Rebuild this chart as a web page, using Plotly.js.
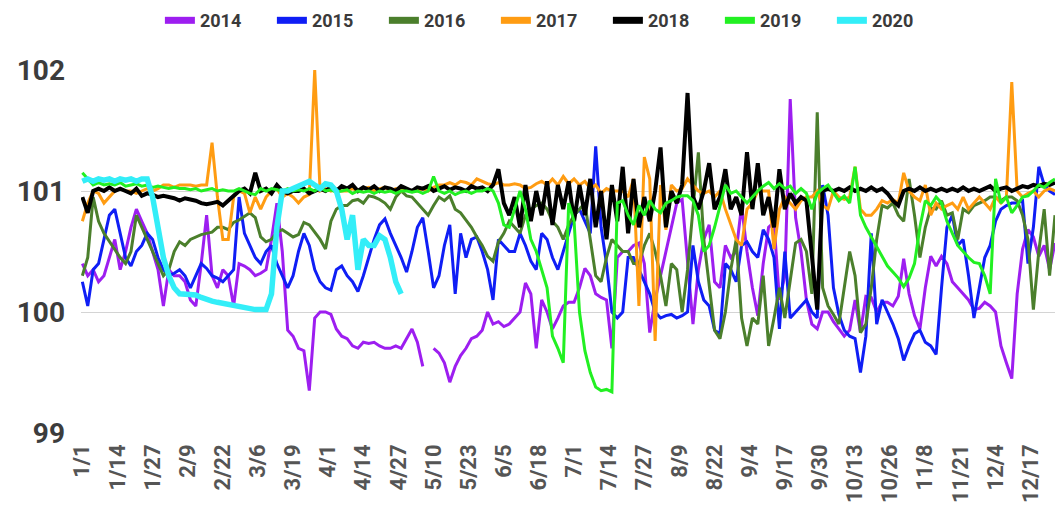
<!DOCTYPE html>
<html><head><meta charset="utf-8">
<script src="https://cdn.plot.ly/plotly-3.0.1.min.js"></script>
<style>html,body{margin:0;padding:0;background:#fff;overflow:hidden}#chart{width:1055px;height:524px}</style>
</head><body><div id="chart"></div>
<script>
// Day-of-year axis (leap-year calendar); values sampled every 2 days from 1/1
const stepDays = 2;
const tickLabels = ['1/1','1/14','1/27','2/9','2/22','3/6','3/19','4/1','4/14','4/27','5/10','5/23','6/5','6/18','7/1','7/14','7/27','8/9','8/22','9/4','9/17','9/30','10/13','10/26','11/8','11/21','12/4','12/17'];
const tickSpacingDays = 13;
const seriesNames = ['2014','2015','2016','2017','2018','2019','2020'];

const y2014 = [
100.4,100.3,100.35,100.25,100.3,100.45,100.6,100.35,100.5,100.7,100.85,100.75,100.65,100.5,100.35,100.05,100.35,100.3,100.3,100.25,
100.1,100.05,100.4,100.8,100.3,100.2,100.35,100.3,100.05,100.4,100.38,100.35,100.3,100.32,100.35,100.6,100.9,100.5,99.85,99.8,
99.7,99.68,99.35,99.95,100.0,100.0,99.98,99.86,99.8,99.78,99.72,99.7,99.75,99.74,99.75,99.72,99.7,99.7,99.72,99.7,
99.78,99.86,99.75,99.55,null,99.7,99.66,99.58,99.42,99.55,99.64,99.7,99.78,99.8,99.85,100.0,99.9,99.92,99.88,99.9,
99.95,100.0,100.24,100.15,99.7,100.1,100.0,99.86,99.95,100.05,100.08,100.08,100.2,100.36,100.3,100.15,100.12,100.1,99.7,100.45,
100.5,100.5,100.55,100.57,100.4,99.83,100.1,100.3,100.5,100.7,100.9,100.93,100.4,99.9,100.35,100.6,100.72,100.25,100.2,100.55,
100.45,100.5,100.88,100.5,100.2,99.97,100.4,100.7,100.74,100.1,100.3,101.76,100.78,100.5,100.1,99.9,99.86,100.0,100.0,99.92,
99.86,99.8,99.85,100.1,99.83,100.13,100.12,100.0,100.08,100.08,100.05,100.13,100.44,100.15,99.97,99.86,100.2,100.46,100.38,100.46,
100.4,100.25,100.2,100.15,100.1,100.02,100.03,100.08,100.05,100.0,99.72,99.58,99.45,100.15,100.52,100.68,100.62,100.46,100.55,100.35,100.57];

const y2015 = [
100.25,100.05,100.35,100.4,100.6,100.8,100.85,100.65,100.45,100.38,100.5,100.55,100.65,100.6,100.45,100.35,100.3,100.32,100.35,100.3,
100.2,100.3,100.4,100.36,100.3,100.28,100.25,100.3,100.35,100.95,100.65,100.55,100.45,100.4,100.5,100.55,100.4,100.3,100.2,100.3,
100.5,100.65,100.55,100.35,100.25,100.2,100.18,100.35,100.38,100.3,100.25,100.17,100.3,100.45,100.6,100.72,100.77,100.65,100.55,100.45,
100.33,100.5,100.7,100.78,100.5,100.2,100.3,100.55,100.72,100.15,100.65,100.45,100.6,100.62,100.5,100.35,100.1,100.6,100.55,100.5,
100.5,100.65,100.55,100.42,100.35,100.65,100.6,100.45,100.35,100.5,100.65,100.8,100.85,100.75,100.65,101.37,100.7,100.4,100.0,99.95,
100.0,100.45,100.45,100.35,100.25,100.15,100.0,99.95,99.97,99.98,99.95,99.97,100.0,100.55,100.25,100.1,100.05,99.85,99.82,100.4,
100.35,100.25,100.55,100.58,100.5,100.45,100.68,100.6,100.45,99.86,100.5,99.95,100.0,100.05,100.1,100.0,99.95,101.05,100.8,100.2,
99.98,99.85,99.8,99.78,99.5,99.8,100.65,99.9,100.1,100.0,99.9,99.78,99.6,99.72,99.82,99.85,99.75,99.72,99.65,100.2,
100.7,100.8,100.55,100.6,100.3,99.95,100.2,100.45,100.55,100.75,100.85,100.88,100.9,100.9,100.92,100.4,100.7,101.2,101.05,101.0,100.97];

const y2016 = [
100.3,100.45,100.95,100.75,100.65,100.58,100.52,100.45,100.4,100.5,100.8,100.7,100.6,100.5,100.4,100.3,100.35,100.5,100.58,100.55,
100.6,100.62,100.64,100.65,100.66,100.7,100.7,100.68,100.74,100.76,100.79,100.82,100.78,100.62,100.58,100.6,100.66,100.68,100.65,100.62,
100.64,100.74,100.72,100.66,100.6,100.52,100.75,100.85,100.88,100.88,100.92,100.93,100.9,100.96,100.95,100.93,100.9,100.85,100.95,101.0,
100.96,100.95,100.9,100.85,100.8,100.88,100.95,100.92,100.96,100.85,100.82,100.76,100.7,100.62,100.55,100.46,100.42,100.58,100.65,100.75,
100.7,100.65,100.8,100.85,100.88,100.9,100.85,100.75,100.7,100.6,100.72,100.8,100.85,100.9,100.6,100.3,100.25,100.45,100.6,100.55,
100.5,100.5,100.4,100.4,100.55,100.65,100.5,100.3,100.05,100.4,100.35,100.0,100.35,100.85,101.32,100.6,100.2,99.85,99.78,100.0,
100.35,100.6,99.95,99.72,99.95,99.9,100.3,99.72,99.95,100.2,99.95,100.25,100.57,100.6,100.5,100.15,101.65,100.2,100.05,99.98,
99.9,100.2,100.5,100.3,99.83,99.9,100.2,100.6,100.88,100.86,100.9,100.8,100.75,101.1,100.8,100.45,100.7,100.86,100.85,100.92,
100.8,100.82,100.6,100.85,100.82,100.88,100.9,100.92,100.95,100.95,100.92,100.95,100.95,100.92,100.8,100.6,100.02,100.5,100.85,100.3,100.8];

const y2017 = [
100.75,100.9,101.0,100.98,100.9,100.95,101.0,101.02,101.0,101.0,100.98,101.0,101.02,101.0,101.02,101.05,101.05,101.03,101.05,101.05,
101.05,101.04,101.05,101.05,101.4,100.95,100.6,100.6,100.95,101.0,100.98,100.82,100.95,100.85,100.95,101.0,101.02,100.95,100.98,100.95,
100.9,100.95,100.97,102.0,101.0,101.02,101.0,101.02,101.0,101.0,101.02,101.0,101.02,101.03,101.0,101.02,101.03,101.0,101.02,101.0,
101.02,101.0,101.0,101.02,101.0,101.03,101.05,101.05,101.07,101.05,101.08,101.07,101.05,101.1,101.08,101.06,101.05,101.07,101.05,101.05,
101.06,101.05,101.02,101.03,101.06,101.08,101.05,101.1,101.05,101.12,101.06,101.1,101.05,101.08,101.02,101.05,100.98,101.02,101.0,101.0,
101.0,100.95,101.1,100.05,101.28,101.1,99.76,101.05,100.68,101.05,101.0,101.02,101.1,101.05,101.0,100.98,101.0,100.95,101.0,100.85,
100.72,100.6,100.55,100.85,100.9,101.0,101.0,101.0,100.52,100.85,100.95,100.9,100.85,100.92,100.95,100.95,101.0,100.88,100.85,101.0,
100.95,100.93,100.95,101.2,100.85,100.8,100.8,100.85,100.92,100.9,100.93,100.9,101.15,101.0,100.95,100.92,101.05,100.8,100.9,100.85,
100.88,100.9,100.85,100.95,100.85,100.9,100.95,100.9,100.85,100.95,100.9,100.95,101.9,101.0,100.95,100.98,101.0,100.95,101.0,101.02,101.0];

const y2018 = [
100.95,100.82,101.0,101.02,101.0,101.03,101.0,101.02,101.0,100.98,101.02,100.96,100.98,100.97,100.95,100.96,100.95,100.94,100.92,100.94,
100.93,100.92,100.9,100.89,100.9,100.91,100.88,100.92,100.95,101.0,101.02,100.98,101.15,101.0,101.02,100.98,101.05,101.0,100.98,101.0,
101.0,101.02,100.98,101.0,101.02,101.0,101.03,101.0,101.04,101.02,101.05,101.0,101.03,101.01,101.04,101.0,101.03,101.02,101.0,101.04,
101.02,101.0,101.03,101.02,101.04,101.0,101.02,101.04,101.01,101.03,101.02,101.0,101.04,101.02,101.03,101.0,101.05,101.18,100.9,100.8,
100.95,100.7,101.05,100.75,101.0,100.8,101.08,100.72,101.05,100.85,101.08,100.75,101.05,100.8,101.1,100.7,101.0,100.6,101.05,100.75,
101.2,100.65,101.1,100.7,100.95,100.75,101.0,101.36,100.7,101.0,100.9,101.05,101.81,100.95,100.85,101.0,101.23,100.85,100.95,101.18,
100.85,100.95,100.8,101.32,100.85,101.23,100.8,100.95,100.7,101.18,100.85,100.98,100.9,100.95,100.92,100.5,100.02,101.0,101.02,101.0,
101.02,101.0,101.03,101.0,101.02,101.0,101.03,101.0,101.02,100.98,100.92,100.88,101.0,101.02,101.0,101.03,101.0,101.02,101.0,101.02,
101.0,101.02,101.0,101.03,101.0,101.02,101.0,101.02,101.04,101.0,101.02,101.03,101.0,101.02,101.04,101.03,101.05,101.04,101.06,101.05,101.07];

const y2019 = [
101.15,101.1,101.05,101.07,101.05,101.06,101.05,101.07,101.04,101.05,101.06,101.04,101.05,101.03,101.04,101.03,101.02,101.03,101.02,101.02,
101.01,101.02,101.0,101.01,101.02,101.0,101.01,101.0,101.0,101.02,101.0,100.98,100.97,101.02,101.0,101.02,101.01,101.0,101.02,101.0,
101.01,101.0,101.02,101.0,101.03,101.0,101.01,100.99,101.0,101.01,100.98,101.0,100.99,101.0,100.98,101.0,100.99,101.0,100.98,101.0,
101.0,100.99,101.0,100.98,101.0,101.12,101.0,100.98,101.0,100.97,100.99,101.0,100.98,101.0,101.0,101.02,101.0,100.9,100.72,100.7,
100.85,101.0,100.85,100.6,100.5,100.35,100.2,99.8,99.7,99.58,100.9,100.75,100.0,99.68,99.5,99.38,99.35,99.36,99.34,100.9,
100.92,100.8,100.72,100.88,100.8,100.92,100.85,100.82,100.9,100.92,100.95,100.96,100.96,100.92,100.8,100.5,100.55,100.7,100.88,101.05,
100.98,101.0,100.95,100.9,100.95,101.0,101.04,101.07,101.02,101.06,101.02,101.04,100.98,101.02,100.98,100.85,100.98,101.02,101.05,100.98,
100.92,100.96,100.9,101.2,100.8,100.7,100.62,100.55,100.46,100.38,100.33,100.28,100.21,100.28,100.4,100.7,100.92,100.88,100.95,100.9,
100.75,100.65,100.55,100.5,100.45,100.41,100.4,100.3,100.15,101.1,100.9,100.95,100.82,100.88,100.95,100.96,101.0,101.05,101.03,101.07,101.1];

const y2020 = [
101.08,101.1,101.08,101.1,101.09,101.1,101.08,101.1,101.09,101.1,101.08,101.1,101.1,100.95,100.7,100.45,100.3,100.2,100.15,100.15,
100.15,100.14,100.12,100.1,100.09,100.08,100.07,100.06,100.05,100.04,100.04,100.03,100.02,100.02,100.02,100.15,100.7,101.0,101.0,101.02,
101.04,101.05,101.08,101.05,101.02,101.06,101.05,101.0,100.85,100.6,100.8,100.35,100.6,100.55,100.55,100.63,100.6,100.45,100.25,100.15];

const seriesValues = [y2014, y2015, y2016, y2017, y2018, y2019, y2020];
const seriesColors = ['#9d1ef0','#0f1ef5','#4b7f2c','#ff9c12','#000000','#22f022','#33eef8'];
const seriesWidths = [3, 3, 3, 3, 4, 3, 5.5];

const traces = [];
seriesValues.forEach((vals, i) => {
  traces.push({
    type: 'scatter', mode: 'lines', name: seriesNames[i],
    x: vals.map((_, k) => k * stepDays), y: vals,
    line: {color: seriesColors[i], width: seriesWidths[i]},
    showlegend: false, connectgaps: false, hoverinfo: 'skip'
  });
});
seriesNames.forEach((n, i) => {
  traces.push({
    type: 'scatter', mode: 'lines', name: n, x: [null], y: [null],
    line: {color: seriesColors[i], width: 7}, showlegend: true, hoverinfo: 'skip'
  });
});

const tickVals = tickLabels.map((_, i) => i * tickSpacingDays);

const layout = {
  width: 1055, height: 524,
  margin: {l: 81, r: 0, t: 70, b: 91, pad: 0},
  paper_bgcolor: '#ffffff', plot_bgcolor: '#ffffff',
  showlegend: true,
  legend: {
    orientation: 'h', x: 0.081, xanchor: 'left', y: 1.187, yanchor: 'top',
    font: {family: 'Roboto', size: 18, color: '#3a3a3a', weight: 'bold'},
    entrywidth: 67, entrywidthmode: 'pixels', bgcolor: 'rgba(0,0,0,0)'
  },
  xaxis: {
    type: 'linear', range: [-0.5, 360], tickmode: 'array', tickvals: tickVals, ticktext: tickLabels,
    tickangle: -90, showgrid: false, zeroline: false, showline: false, ticks: '',
    tickfont: {family: 'Roboto', size: 22, color: '#555555', weight: 'bold'},
    ticklabelstandoff: 6, fixedrange: true
  },
  yaxis: {
    range: [99, 102], tickmode: 'array', tickvals: [99, 100, 101, 102],
    showgrid: true, gridcolor: '#d4d4d4', gridwidth: 1, zeroline: false, showline: false, ticks: '',
    tickfont: {family: 'Roboto', size: 28, color: '#3c3c3c', weight: 'bold'},
    ticklabelstandoff: 15, fixedrange: true
  },
  hovermode: false
};

Plotly.newPlot('chart', traces, layout, {staticPlot: true, displayModeBar: false});
</script>
</body></html>
